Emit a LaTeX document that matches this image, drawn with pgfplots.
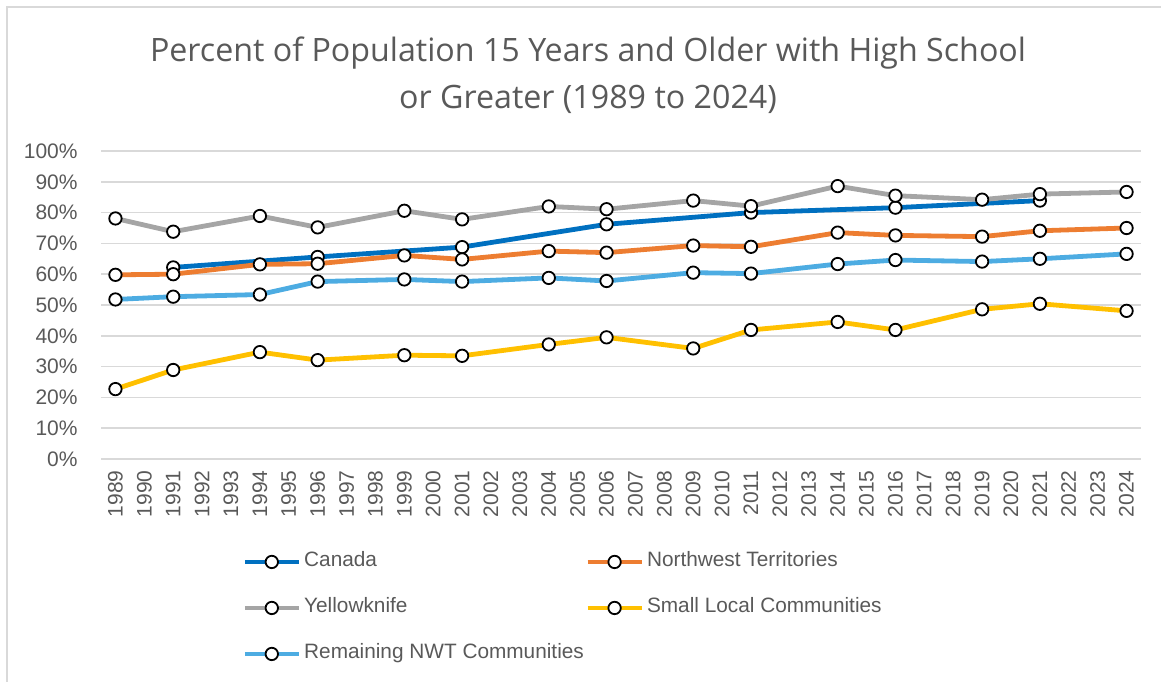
\documentclass[border=0pt]{standalone}
\usepackage{fontspec}
\setmainfont{Liberation Sans}
\newfontfamily\titlefont{Open Sans}
\usepackage{pgfplots}
\pgfplotsset{compat=1.18}

\definecolor{canblue}{RGB}{0,112,192}
\definecolor{nwtorange}{RGB}{237,125,49}
\definecolor{ykgray}{RGB}{165,165,165}
\definecolor{slcgold}{RGB}{255,192,0}
\definecolor{remblue}{RGB}{77,172,226}
\definecolor{txtgray}{RGB}{89,89,89}
\definecolor{gridgray}{RGB}{217,217,217}

\begin{document}
\begin{tikzpicture}
\path[use as bounding box] (0,0) rectangle (580.5pt,340.5pt);
\draw[gridgray, line width=0.75pt] (3.5pt,-2pt) -- (3.5pt,337pt) -- (585pt,337pt);

\node[anchor=base, font=\titlefont\fontsize{16.1}{20}\selectfont, text=txtgray]
  at (294pt,309.5pt) {Percent of Population 15 Years and Older with High School};
\node[anchor=base, font=\titlefont\fontsize{16.1}{20}\selectfont, text=txtgray]
  at (294pt,286pt) {or Greater (1989 to 2024)};

\begin{axis}[
  at={(50.5pt,111pt)}, anchor=south west,
  scale only axis, width=520pt, height=154pt,
  xmin=1988.5, xmax=2024.5, ymin=0, ymax=100,
  axis line style={draw=none},
  major tick length=0pt,
  ymajorgrids=true,
  grid style={gridgray, line width=0.75pt},
  ytick={0,10,...,100},
  xtick={1989,...,2024},
  /pgf/number format/assume math mode=true,
  /pgf/number format/1000 sep={},
  yticklabel={\pgfmathprintnumber{\tick}\%},
  yticklabel style={anchor=east, inner sep=0pt, font=\fontsize{10.5}{12}\selectfont, text=txtgray},
  yticklabel shift=11.5pt,
  xticklabel style={rotate=90, anchor=east, inner sep=0pt, font=\fontsize{10.5}{12}\selectfont, text=txtgray},
  xticklabel shift=5.5pt,
  every axis plot/.append style={line width=2.4pt, mark=*, mark size=3.1pt,
     mark options={fill=white, draw=black, line width=0.9pt}},
  legend columns=2,
  legend cell align=left,
  legend image code/.code={\draw[mark repeat=2,mark phase=2,#1] plot coordinates {(0pt,0pt) (13.5pt,0pt) (27pt,0pt)};},
  legend style={at={(0.1298,-0.281)}, anchor=north west, draw=none, fill=none,
     font=\fontsize{10.4}{12}\selectfont, text=txtgray,
     row sep=11pt, column sep=0pt,
     nodes={inner sep=1.5pt, text height=7pt, text depth=2pt}},
]
\addplot[canblue] coordinates {
 (1991,62.2)(1996,65.6)(2001,68.8)(2006,76.2)(2011,80.0)(2016,81.6)(2021,83.9)};
\addlegendentry{\makebox[139pt][l]{Canada}}
\addplot[nwtorange] coordinates {
 (1989,59.8)(1991,60.0)(1994,63.2)(1996,63.4)(1999,66.1)(2001,64.8)(2004,67.5)(2006,67.0)
 (2009,69.3)(2011,68.9)(2014,73.5)(2016,72.6)(2019,72.2)(2021,74.1)(2024,75.0)};
\addlegendentry{Northwest Territories}
\addplot[ykgray] coordinates {
 (1989,78.1)(1991,73.8)(1994,78.9)(1996,75.2)(1999,80.6)(2001,77.8)(2004,82.0)(2006,81.1)
 (2009,83.9)(2011,82.1)(2014,88.6)(2016,85.5)(2019,84.2)(2021,86.0)(2024,86.7)};
\addlegendentry{\makebox[139pt][l]{Yellowknife}}
\addplot[slcgold] coordinates {
 (1989,22.7)(1991,28.9)(1994,34.7)(1996,32.1)(1999,33.7)(2001,33.5)(2004,37.2)(2006,39.5)
 (2009,35.9)(2011,41.9)(2014,44.5)(2016,41.9)(2019,48.6)(2021,50.4)(2024,48.1)};
\addlegendentry{Small Local Communities}
\addplot[remblue] coordinates {
 (1989,51.8)(1991,52.7)(1994,53.4)(1996,57.6)(1999,58.3)(2001,57.6)(2004,58.8)(2006,57.8)
 (2009,60.5)(2011,60.2)(2014,63.3)(2016,64.6)(2019,64.1)(2021,65.0)(2024,66.6)};
\addlegendentry{\makebox[139pt][l]{Remaining NWT Communities}}
\end{axis}
\end{tikzpicture}
\end{document}
